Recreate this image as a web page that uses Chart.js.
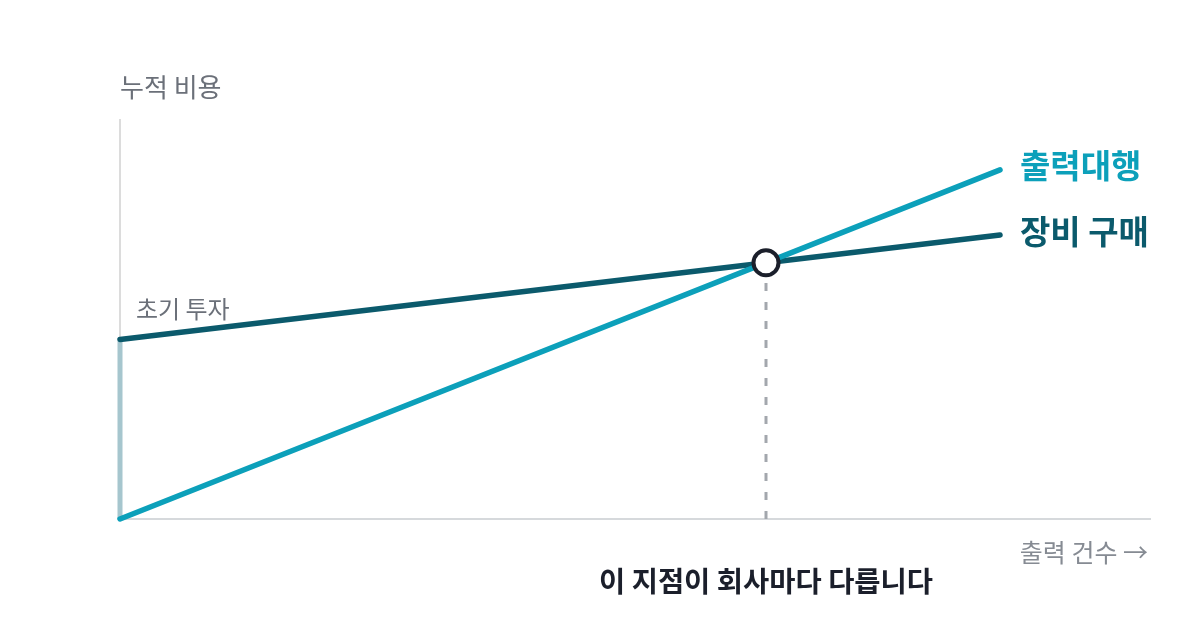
<!DOCTYPE html>
<html lang="ko">
<head>
<meta charset="utf-8">
<title>손익분기점</title>
<script src="https://cdn.jsdelivr.net/npm/chart.js@4.4.1/dist/chart.umd.min.js"></script>
<style>
  html, body { margin: 0; padding: 0; background: #ffffff; }
  #wrap { width: 1200px; height: 630px; position: relative; }
</style>
</head>
<body>
<div id="wrap"><canvas id="breakEvenChart" width="1200" height="630"></canvas></div>
<script>
// 출력 건수 (x) 와 누적 비용 (y), 상대 단위
var volumes = [0, 88];
var outsourcingCost = [0, 87.5];
var equipmentCost = [45, 71.2];
var seriesNames = ['출력대행', '장비 구매'];

var FONT = '"Noto Sans CJK KR", "Noto Sans", sans-serif';
var OUT_COLOR = '#0ca0ba';
var EQ_COLOR = '#0b5a6c';

// 두 직선의 교차점 (손익분기점)
var sOut = (outsourcingCost[1] - outsourcingCost[0]) / (volumes[1] - volumes[0]);
var sEq = (equipmentCost[1] - equipmentCost[0]) / (volumes[1] - volumes[0]);
var bx = (equipmentCost[0] - outsourcingCost[0]) / (sOut - sEq);
var by = outsourcingCost[0] + sOut * bx;

function pts(xs, ys) {
  return xs.map(function(x, i) { return { x: x, y: ys[i] }; });
}

var labelPlugin = {
  id: 'labels',
  afterDatasetsDraw: function(chart) {
    var ctx = chart.ctx;
    var xs = chart.scales.x, ys = chart.scales.y;
    ctx.save();
    ctx.textBaseline = 'middle';

    ctx.fillStyle = '#6b7079';
    ctx.font = '400 26px ' + FONT;
    ctx.textAlign = 'left';
    ctx.fillText('누적 비용', 120, 87);

    ctx.font = '400 24px ' + FONT;
    ctx.fillText('초기 투자', 136, 309);

    var endX = xs.getPixelForValue(volumes[1]) + 20;
    ctx.font = '700 33px ' + FONT;
    ctx.fillStyle = OUT_COLOR;
    ctx.fillText(seriesNames[0], endX, ys.getPixelForValue(outsourcingCost[1]) - 4);
    ctx.fillStyle = EQ_COLOR;
    ctx.fillText(seriesNames[1], endX, ys.getPixelForValue(equipmentCost[1]) - 3);

    ctx.font = '400 25px ' + FONT;
    ctx.fillStyle = '#868b93';
    ctx.textAlign = 'right';
    ctx.fillText('출력 건수 →', 1148, 552);

    ctx.font = '700 28.5px ' + FONT;
    ctx.fillStyle = '#1b1f2b';
    ctx.textAlign = 'center';
    ctx.fillText('이 지점이 회사마다 다릅니다', xs.getPixelForValue(bx), 581);
    ctx.restore();
  }
};

new Chart(document.getElementById('breakEvenChart').getContext('2d'), {
  type: 'line',
  data: {
    datasets: [
      {
        label: '초기 투자',
        data: pts([0, 0], [0, equipmentCost[0]]),
        borderColor: '#a6c6ce',
        borderWidth: 5,
        pointRadius: 0,
        clip: false,
        order: 4
      },
      {
        label: 'dash',
        data: pts([bx, bx], [0, by]),
        borderColor: '#a3a7ad',
        borderWidth: 3,
        borderDash: [8, 11],
        pointRadius: 0,
        clip: false,
        order: 3
      },
      {
        label: seriesNames[1],
        data: pts(volumes, equipmentCost),
        borderColor: EQ_COLOR,
        borderWidth: 5.5,
        borderCapStyle: 'round',
        pointRadius: 0,
        clip: false,
        order: 2
      },
      {
        label: seriesNames[0],
        data: pts(volumes, outsourcingCost),
        borderColor: OUT_COLOR,
        borderWidth: 5.5,
        borderCapStyle: 'round',
        pointRadius: 0,
        clip: false,
        order: 1
      },
      {
        label: '손익분기점',
        data: [{ x: bx, y: by }],
        showLine: false,
        pointRadius: 12.5,
        pointBorderWidth: 4,
        pointBackgroundColor: '#ffffff',
        pointBorderColor: '#1b1f2b',
        clip: false,
        order: 0
      }
    ]
  },
  options: {
    responsive: false,
    animation: false,
    layout: { padding: { left: 120, right: 50, top: 120, bottom: 111 } },
    plugins: { legend: { display: false }, tooltip: { enabled: false } },
    scales: {
      x: {
        type: 'linear',
        min: 0,
        max: 103,
        grid: { display: false },
        ticks: { display: false },
        border: { display: true, color: '#d6d9dc', width: 2 },
        afterFit: function(s) { s.height = 0; }
      },
      y: {
        min: 0,
        max: 100,
        grid: { display: false },
        ticks: { display: false },
        border: { display: true, color: '#dcdcdc', width: 2 },
        afterFit: function(s) { s.width = 0; }
      }
    }
  },
  plugins: [labelPlugin]
});
</script>
</body>
</html>
